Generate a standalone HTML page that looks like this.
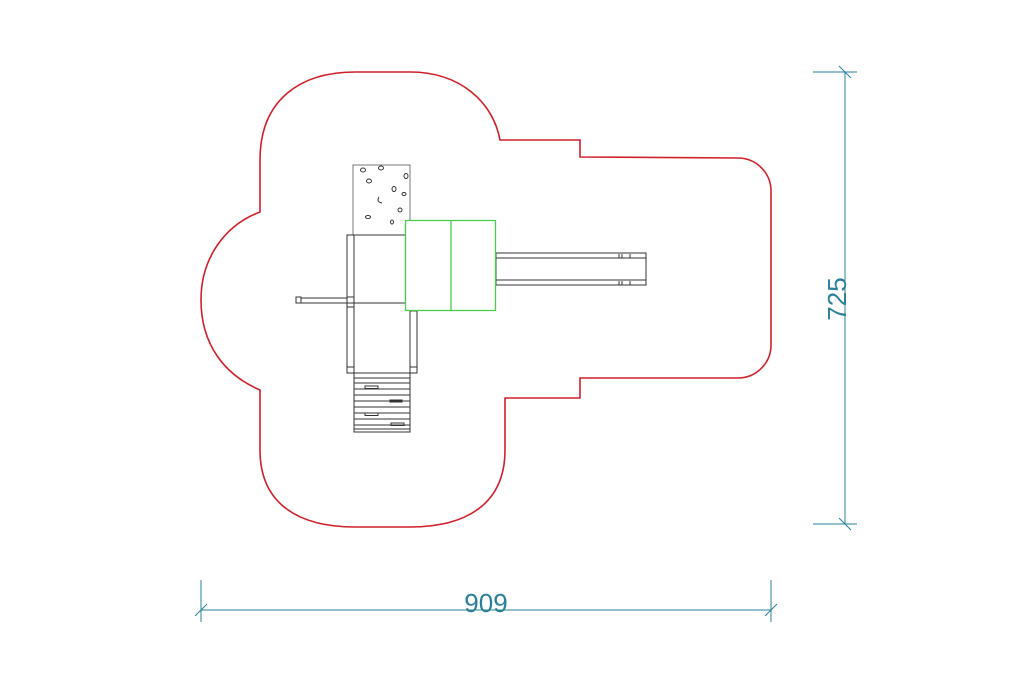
<!DOCTYPE html>
<html><head><meta charset="utf-8"><style>
html,body{margin:0;padding:0;background:#fff;}
svg{display:block;}
</style></head><body>
<svg width="1024" height="682" viewBox="0 0 1024 682" xmlns="http://www.w3.org/2000/svg">
<rect width="1024" height="682" fill="#fff"/>
<path d="M260,212 L260,160 C260,100 300,72 355,72 L410,72 C460,72 493,102 500,140 L580,140 L580,157 L738,158 A33,33 0 0 1 771,191 L771,345 A33,33 0 0 1 738,378 L580,378 L580,398 L505,398 L505,450 C505,505 465,527 410,527 L355,527 C300,527 260,505 260,450 L260,390 C225,375 201,345 201,300 C201,258 225,225 260,212 Z" fill="none" stroke="#d0202a" stroke-width="1.6"/>
<g stroke="#2a7f9a" stroke-width="1" fill="none">
<line x1="845" y1="72" x2="845" y2="524"/>
<line x1="813" y1="72" x2="857" y2="72"/>
<line x1="813" y1="524" x2="857" y2="524"/>
<line x1="839" y1="66" x2="851" y2="78"/>
<line x1="839" y1="518" x2="851" y2="530"/>
<line x1="201" y1="610" x2="771" y2="610"/>
<line x1="201" y1="580" x2="201" y2="622"/>
<line x1="771" y1="580" x2="771" y2="622"/>
<line x1="195" y1="616" x2="207" y2="604"/>
<line x1="765" y1="616" x2="777" y2="604"/>
</g>
<text x="486" y="612" font-family="Liberation Sans, sans-serif" font-size="26" fill="#2a7f9a" text-anchor="middle">909</text>
<text x="0" y="0" transform="translate(846,299) rotate(-90)" font-family="Liberation Sans, sans-serif" font-size="26" fill="#2a7f9a" text-anchor="middle">725</text>
<g stroke="#333" stroke-width="1" fill="none">
<rect x="353" y="165" width="57" height="70" stroke="#777"/>
<ellipse cx="363" cy="170" rx="2.5" ry="2"/>
<ellipse cx="381" cy="168" rx="2.5" ry="2"/>
<ellipse cx="406" cy="176" rx="2" ry="2.5"/>
<ellipse cx="369" cy="181" rx="2.5" ry="2"/>
<ellipse cx="394" cy="189" rx="2" ry="2.5"/>
<ellipse cx="404" cy="194" rx="2" ry="1.5"/>
<path d="M379,197 q-3,5 3,6"/>
<ellipse cx="400" cy="210" rx="2" ry="2"/>
<ellipse cx="368" cy="217" rx="2.5" ry="1.5"/>
<ellipse cx="392" cy="222" rx="1.5" ry="2"/>
<rect x="347" y="235" width="63" height="138"/>
<rect x="347" y="235" width="7" height="138"/>
<line x1="347" y1="303" x2="405" y2="303"/>
<rect x="347" y="297" width="7" height="10"/>
<line x1="301" y1="298" x2="347" y2="298"/>
<line x1="301" y1="303" x2="347" y2="303"/>
<rect x="296" y="297" width="5" height="6"/>
<rect x="410" y="311" width="7" height="62"/>
<rect x="347" y="367" width="7" height="6"/>
<rect x="410" y="367" width="7" height="6"/>
<rect x="496" y="253" width="150" height="32"/>
<line x1="496" y1="258" x2="646" y2="258"/>
<line x1="496" y1="280" x2="646" y2="280"/>
<line x1="619" y1="254" x2="619" y2="258"/><line x1="622" y1="254" x2="622" y2="258"/><line x1="630" y1="254" x2="630" y2="258"/>
<line x1="619" y1="281" x2="619" y2="285"/><line x1="622" y1="281" x2="622" y2="285"/><line x1="630" y1="281" x2="630" y2="285"/>
<rect x="354" y="373" width="56" height="59"/>
<line x1="354" y1="378" x2="410" y2="378"/>
<line x1="354" y1="383" x2="410" y2="383"/>
<line x1="354" y1="389" x2="410" y2="389"/>
<line x1="354" y1="395" x2="410" y2="395"/>
<line x1="354" y1="401" x2="410" y2="401"/>
<line x1="354" y1="407" x2="410" y2="407"/>
<line x1="354" y1="413" x2="410" y2="413"/>
<line x1="354" y1="419" x2="410" y2="419"/>
<line x1="354" y1="425" x2="410" y2="425"/>
<line x1="354" y1="429" x2="410" y2="429"/>
<rect x="365" y="386" width="13" height="2.5"/>
<rect x="390" y="400" width="12" height="2"/>
<rect x="365" y="413" width="13" height="2.5"/>
<rect x="391" y="423" width="13" height="2.5"/>
</g>
<rect x="405.5" y="220.5" width="90" height="90" fill="#fff" stroke="#4ccc4c" stroke-width="1.3"/>
<line x1="451" y1="220" x2="451" y2="311" stroke="#4ccc4c" stroke-width="1.3"/>
</svg>
</body></html>
